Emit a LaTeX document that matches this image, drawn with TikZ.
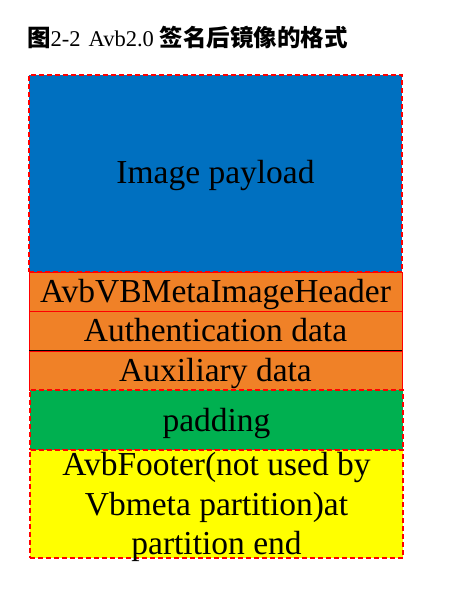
\documentclass[tikz,border=0pt]{standalone}
\usepackage{fontspec}
\setmainfont{Liberation Serif}
\newfontfamily\cjk{Noto Sans CJK SC}
\definecolor{pblue}{HTML}{0070C0}
\definecolor{porange}{HTML}{F08127}
\definecolor{pgreen}{HTML}{00B050}
\definecolor{pyellow}{HTML}{FFFF00}
\definecolor{pred}{HTML}{FF0000}
\tikzset{
  seg/.style={anchor=north west, inner sep=0pt, outer sep=0pt},
  lbl/.style={anchor=base, inner sep=0pt, text=black, font=\fontsize{33.5}{40}\selectfont, align=center},
  dashedred/.style={draw=pred, line width=1.2pt, dash pattern=on 5pt off 3pt},
  solidred/.style={draw=pred, line width=0.8pt}
}
\begin{document}
\begin{tikzpicture}[x=1pt,y=-1pt]
\useasboundingbox (0,0) rectangle (465,593);
\node[anchor=base west, inner sep=0pt, font=\fontsize{22.5}{26}\selectfont] (title) at (27,47)
  {{\cjk\fontsize{23.5}{26}\selectfont\bfseries 图}2-2\hspace{8pt}Avb2.0\hspace{6pt}{\cjk\fontsize{23.5}{26}\selectfont\bfseries 签名后镜像的格式}};
% segments
\node[seg, fill=pblue, dashedred, minimum width=373pt, minimum height=197pt] (payload) at (29,75) {};
\node[lbl] (payloadtext) at (215.5,184) {Image payload};
\node[seg, fill=porange, solidred, minimum width=373pt, minimum height=39pt] (header) at (29,272) {};
\node[lbl] (headertext) at (215.5,302) {AvbVBMetaImageHeader};
\node[seg, fill=porange, solidred, minimum width=373pt, minimum height=39pt] (auth) at (29,311) {};
\node[lbl] (authtext) at (215.5,341) {Authentication data};
\node[seg, fill=porange, solidred, minimum width=373pt, minimum height=39pt] (aux) at (29,351) {};
\node[lbl] (auxtext) at (215.5,381) {Auxiliary data};
\draw[black, line width=1pt] (auth.south west) -- (auth.south east);
\node[seg, fill=pgreen, dashedred, minimum width=373pt, minimum height=60pt] (padding) at (30,390) {};
\node[lbl] (paddingtext) at (216.5,431) {padding};
\node[seg, fill=pyellow, dashedred, minimum width=373pt, minimum height=108pt] (footer) at (30,450) {};
\node[lbl] (footer1) at (216.5,475) {AvbFooter(not used by};
\node[lbl] (footer2) at (216.5,515) {Vbmeta partition)at};
\node[lbl] (footer3) at (216.5,554) {partition end};
\end{tikzpicture}
\end{document}
